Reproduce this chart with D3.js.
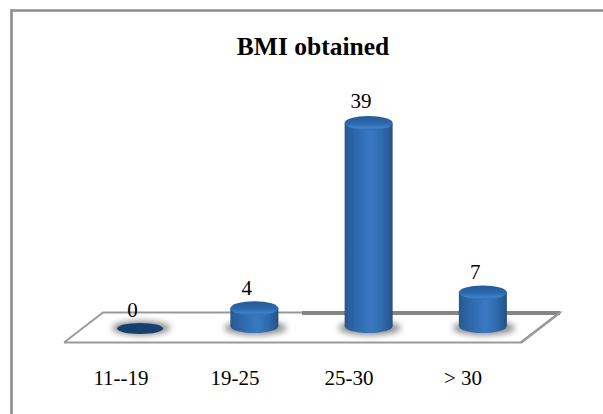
<!DOCTYPE html>
<html><head><meta charset="utf-8">
<script src="https://cdn.jsdelivr.net/npm/d3@7"></script>
<style>html,body{margin:0;padding:0;background:#fff}svg{display:block}text{font-family:"Liberation Serif",serif;fill:#000}</style>
</head><body><div id="c"></div>
<script>
const categories = ["11--19","19-25","25-30","> 30"];
const values = [0,4,39,7];
const chartTitle = "BMI obtained";

const W=603,H=414;
const svg=d3.select("#c").append("svg").attr("width",W).attr("height",H);
const defs=svg.append("defs");
const grad=defs.append("linearGradient").attr("id","cyl");
[[0,"#26568c"],[.08,"#2a5f9d"],[.3,"#2f6cb2"],[.55,"#3a78bf"],[.78,"#2f6bb0"],[.94,"#29598f"],[1,"#244f80"]]
  .forEach(([o,c])=>grad.append("stop").attr("offset",o).attr("stop-color",c));
const capGrad=defs.append("linearGradient").attr("id","cap").attr("x1",0).attr("x2",0).attr("y1",0).attr("y2",1);
[[0,"#255a96"],[.55,"#2c68ae"],[.82,"#3f80c6"],[1,"#2f6db3"]]
  .forEach(([o,c])=>capGrad.append("stop").attr("offset",o).attr("stop-color",c));
defs.append("filter").attr("id","blur").attr("x","-30%").attr("y","-80%").attr("width","160%").attr("height","260%")
  .append("feGaussianBlur").attr("stdDeviation",3);
defs.append("filter").attr("id","soft").append("feGaussianBlur").attr("stdDeviation",.45);

// chart frame
svg.append("path").attr("d",`M${W},10.5H11.5V${H}`).attr("fill","none").attr("stroke","#8c8c8c").attr("stroke-width",2.6);

// scales
const x=d3.scaleBand().domain(categories).range([83,540]).padding(0);
const y=d3.scaleLinear().domain([0,39]).range([329.5,123]);
const labelY=d3.scaleLinear().domain([0,39]).range([316.5,108]);
const labelX=d3.scaleBand().domain(categories).range([64,520]).padding(0);
const baseY=326, rx=24, ry=7;

// floor
const floor=[[64,342.5],[521,342.5],[560,312.5],[103,312.5],[64,342.5]];
svg.append("path").attr("d",d3.line()(floor)).attr("fill","#fff").attr("stroke","#999").attr("stroke-width",1.8);
svg.append("path").attr("d",d3.line()([[302,313],[560,313]])).attr("stroke","#858585").attr("stroke-width",4);
svg.append("path").attr("d",d3.line()([[521,342.5],[560,312.5]])).attr("stroke","#999").attr("stroke-width",2.6);

// title
svg.append("text").attr("x",313).attr("y",55).attr("text-anchor","middle").attr("font-size",25.5).attr("font-weight","bold").text(chartTitle);

// shadows
const cx=d=>x(d)+x.bandwidth()/2;
svg.append("g").selectAll("ellipse").data(categories).join("ellipse")
  .attr("cx",d=>cx(d)+1).attr("cy",328)
  .attr("rx",(d,i)=>values[i]===0?29:31).attr("ry",7).attr("fill","#3c3c3c").attr("opacity",.6).attr("filter","url(#blur)");

// cylinders
const bars=svg.append("g").attr("filter","url(#soft)").selectAll("g").data(categories).join("g");
bars.each(function(d,i){
  const g=d3.select(this),c=cx(d),v=values[i],t=y(v);
  if(v===0){
    g.append("ellipse").attr("cx",c).attr("cy",t-1).attr("rx",rx-1).attr("ry",5.5).attr("fill","#173f6e");
    return;
  }
  g.append("path").attr("d",`M${c-rx},${t}L${c-rx},${baseY}A${rx},${ry} 0 0 0 ${c+rx},${baseY}L${c+rx},${t}Z`).attr("fill","url(#cyl)");
  g.append("ellipse").attr("cx",c).attr("cy",t).attr("rx",rx).attr("ry",ry).attr("fill","url(#cap)");
});

// value labels
svg.append("g").selectAll("text").data(values).join("text")
  .attr("x",(d,i)=>cx(categories[i])-7.7).attr("y",d=>labelY(d))
  .attr("text-anchor","middle").attr("font-size",21).text(d=>d);

// category labels
svg.append("g").selectAll("text").data(categories).join("text")
  .attr("x",d=>labelX(d)+labelX.bandwidth()/2).attr("y",385)
  .attr("text-anchor","middle").attr("font-size",21).text(d=>d);
</script></body></html>
